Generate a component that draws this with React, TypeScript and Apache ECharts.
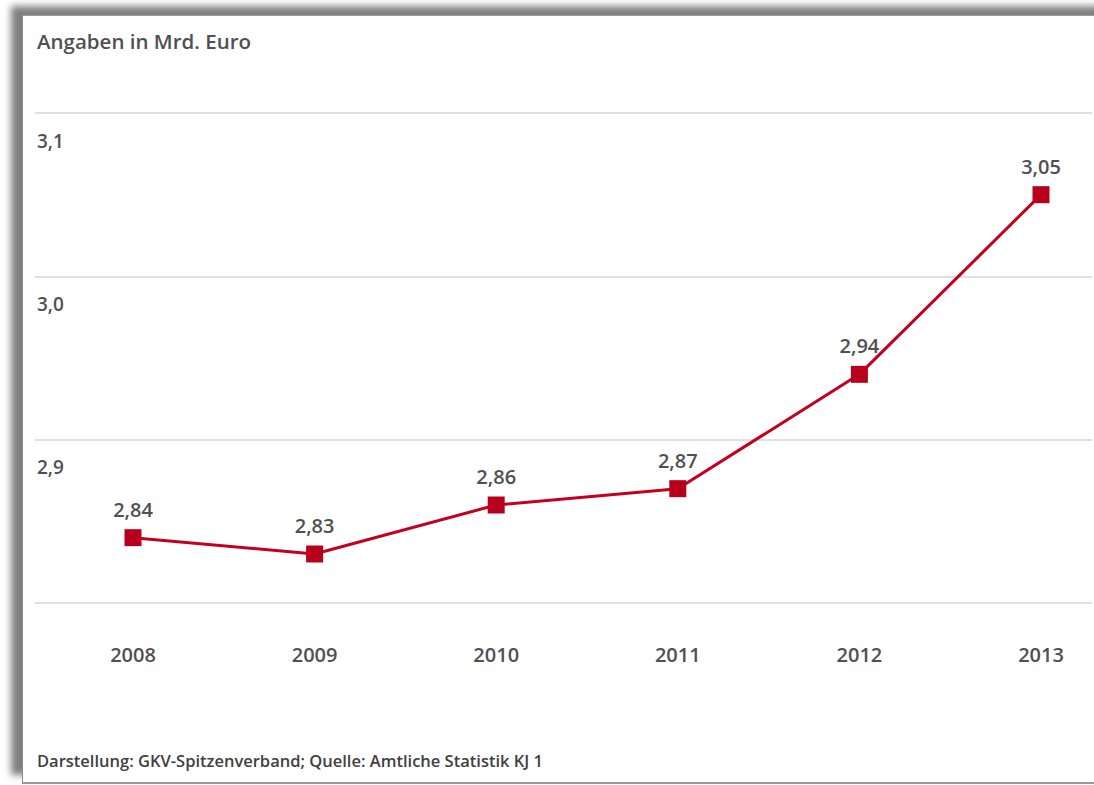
import React, { useEffect, useRef } from "react";
import * as echarts from "echarts";

const years = ["2008", "2009", "2010", "2011", "2012", "2013"];
const values = [2.84, 2.83, 2.86, 2.87, 2.94, 3.05];
const yMin = 2.8;
const yMax = 3.1;
const yStep = 0.1;
const titleText = "Angaben in Mrd. Euro";
const sourceText = "Darstellung: GKV-Spitzenverband; Quelle: Amtliche Statistik KJ 1";

const FONT = "'Open Sans', 'Noto Sans', sans-serif";
const TXT = "#505050";
const fmt = (v: number, d: number) => v.toFixed(d).replace(".", ",");

export default function App() {
  const ref = useRef<HTMLDivElement>(null);
  useEffect(() => {
    if (!ref.current) return;
    const chart = echarts.init(ref.current, null, { renderer: "svg" });
    chart.setOption({
      animation: false,
      backgroundColor: "transparent",
      textStyle: { fontFamily: FONT },
      grid: [
        { left: 35, right: 2, top: 113, bottom: 182 },
        { left: 133, right: 53, top: 113, bottom: 182 },
      ],
      xAxis: [
        { type: "value", gridIndex: 0, show: false, min: 0, max: 1 },
        {
          type: "category",
          gridIndex: 1,
          data: years,
          boundaryGap: false,
          axisLine: { show: false },
          axisTick: { show: false },
          axisLabel: { margin: 41, fontSize: 20, fontWeight: 600, color: TXT, fontFamily: FONT },
        },
      ],
      yAxis: [
        {
          type: "value",
          gridIndex: 0,
          min: yMin,
          max: yMax,
          interval: yStep,
          axisLine: { show: false },
          axisTick: { show: false },
          splitLine: { show: true, lineStyle: { color: "#e0e0e0", width: 2 } },
          axisLabel: {
            inside: true,
            margin: 2,
            align: "left",
            verticalAlign: "top",
            padding: [18, 0, 0, 0],
            fontSize: 19,
            fontWeight: 600,
            color: TXT,
            fontFamily: FONT,
            formatter: (v: number) => (Math.abs(v - yMin) < 1e-6 ? "" : fmt(v, 1)),
          },
        },
        { type: "value", gridIndex: 1, min: yMin, max: yMax, interval: yStep, show: false, splitLine: { show: false } },
      ],
      graphic: [
        {
          type: "text",
          left: 37,
          top: 30,
          style: { text: titleText, fontSize: 20.5, fontWeight: 600, fill: TXT, fontFamily: FONT },
        },
        {
          type: "text",
          left: 37,
          top: 752,
          style: { text: sourceText, fontSize: 16.5, fontWeight: 600, fill: "#404040", fontFamily: FONT },
        },
      ],
      series: [
        {
          type: "line",
          xAxisIndex: 1,
          yAxisIndex: 1,
          data: values,
          symbol: "rect",
          symbolSize: 17,
          lineStyle: { color: "#c3001f", width: 3 },
          itemStyle: { color: "#b8001c" },
          label: {
            show: true,
            position: "top",
            distance: 10,
            fontSize: 20,
            fontWeight: 600,
            color: TXT,
            fontFamily: FONT,
            formatter: (p: any) => fmt(p.value, 2),
          },
        },
      ],
    });
    return () => chart.dispose();
  }, []);

  return (
    <div style={{ position: "fixed", left: 0, top: 0, width: 1094, height: 785, background: "#ffffff", overflow: "hidden" }}>
      <div
        style={{
          position: "absolute",
          left: 22,
          top: 15,
          width: 1110,
          height: 766,
          background: "#ffffff",
          borderLeft: "1px solid #8a8a8a",
          borderTop: "1px solid #9a9a9a",
          borderBottom: "2px solid #9a9a9a",
          boxShadow: "-11px -9px 7px rgba(0,0,0,0.5)",
        }}
      />
      <div ref={ref} style={{ position: "absolute", left: 0, top: 0, width: 1094, height: 785 }} />
    </div>
  );
}
